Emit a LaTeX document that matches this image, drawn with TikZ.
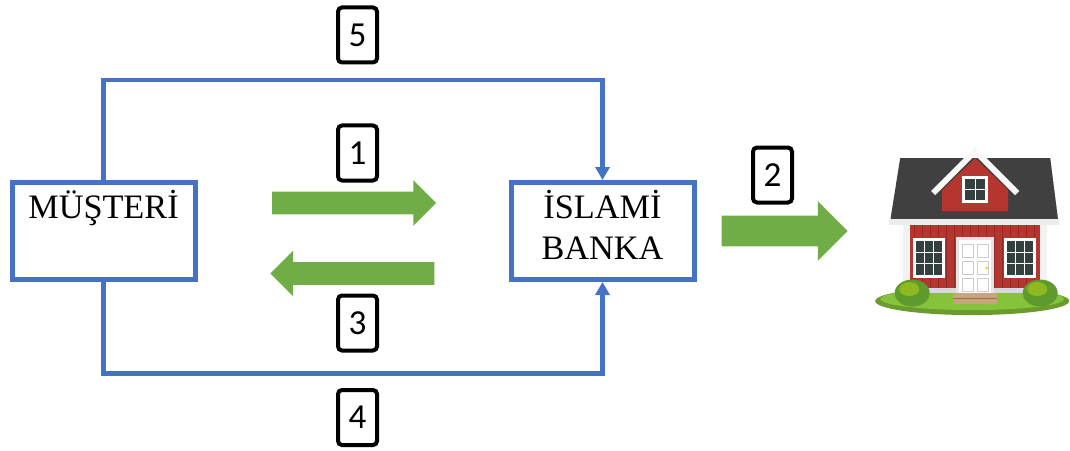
\documentclass[tikz,border=0pt]{standalone}
\usepackage{fontspec}
\setmainfont{Liberation Serif}
\newfontfamily\numfont{Carlito}
\usepackage{tikz}
\usetikzlibrary{arrows.meta,shapes.arrows}
\definecolor{flowblue}{HTML}{4472C4}
\definecolor{flowgreen}{HTML}{70AD47}
\definecolor{wallred}{HTML}{B5352F}
\definecolor{roofgray}{HTML}{404040}
\definecolor{glass}{HTML}{34403F}
\definecolor{lawn}{HTML}{86C23A}
\definecolor{bush}{HTML}{5E9A2C}
\definecolor{stepwood}{HTML}{C9A57C}

\begin{document}
\begin{tikzpicture}[
  party/.style={draw=flowblue, line width=0.1cm, fill=white, minimum width=3.66cm, minimum height=1.94cm, align=center, font=\fontsize{19.5}{23}\selectfont},
  stepno/.style={draw=black, line width=0.08cm, rounded corners=0.8mm, minimum width=0.78cm, minimum height=1.1cm, inner sep=0pt, font=\numfont\fontsize{20}{24}\selectfont},
  flow/.style={single arrow, fill=flowgreen, inner xsep=0pt, inner ysep=0.22cm, single arrow head extend=0.23cm, minimum height=3.28cm},
  track/.style={-{Triangle[length=2.6mm, width=2.8mm]}, draw=flowblue, line width=0.09cm}
]
\useasboundingbox (0,0) rectangle (21.4,9);

% the two parties
\node[party] (musteri) at (2.07,4.38) {MÜŞTERİ\\\strut};
\node[party] (banka) at (12.05,4.38) {İSLAMİ\\BANKA\strut};

% outer lines
\coordinate (upper) at (0,7.4);
\coordinate (lower) at (0,1.53);
\draw[track] (musteri.north) |- (banka.north |- upper) -- (banka.north);
\draw[track] (musteri.south) |- (banka.south |- lower) -- (banka.south);

% green arrows
\node[flow] (give) at (6.97,4.94) {};
\node[flow, shape border rotate=180] (back) at (7.16,3.53) {};
\node[flow, minimum height=2.52cm, inner ysep=0.3cm, single arrow head extend=0.29cm] (buy) at (15.54,4.38) {};

% step numbers
\node[stepno] (n5) at (7.15,8.3) {5};
\node[stepno] (n1) at (7.15,5.94) {1};
\node[stepno] (n3) at (7.15,2.54) {3};
\node[stepno] (n4) at (7.15,0.65) {4};
\node[stepno] (n2) at (15.45,5.5) {2};

% house
\begin{scope}[x=0.02cm, y=-0.02cm, shift={(0,9cm)}]
  \fill[lawn!80!black] (972,301) ellipse [x radius=97, y radius=14];
  \fill[lawn] (972,299) ellipse [x radius=92, y radius=11];
  % walls
  \fill[wallred] (903,222) rectangle (1047,293);
  \foreach \x in {914,922,...,1038}
    \draw[wallred!80!black, line width=0.2pt] (\x,224) -- (\x,290);
  \fill[white!90!gray] (903,222) rectangle (910,293);
  \fill[white!90!gray] (1040,222) rectangle (1047,293);
  \fill[gray!30] (903,288) rectangle (1047,293);
  % roof
  \fill[roofgray] (900,158) -- (1050,158) -- (1058,221) -- (890,221) -- cycle;
  \begin{scope}
    \clip (900,158) -- (1050,158) -- (1058,221) -- (890,221) -- cycle;
    \foreach \y in {166,174,...,214}
      \draw[black!75, line width=0.3pt] (880,\y) -- (1070,\y);
  \end{scope}
  \fill[gray!15] (889,219) rectangle (1059,225);
  % dormer
  \fill[wallred] (942,190) -- (975,158) -- (1008,190) -- (1008,211) -- (942,211) -- cycle;
  \draw[white!95!gray, line width=0.12cm, line join=miter] (933,193) -- (975,151) -- (1017,193);
  \fill[white] (962,176) rectangle (988,203);
  \fill[glass] (965,179) rectangle (985,200);
  \draw[white, line width=0.6pt] (975,179) -- (975,200) (965,189.5) -- (985,189.5);
  % windows
  \foreach \x in {913,1004} {
    \fill[white] (\x,238) rectangle ++(32,40);
    \fill[glass] (\x+3,241) rectangle ++(26,34);
    \draw[white, line width=0.6pt] (\x+11.7,241) -- ++(0,34) (\x+20.3,241) -- ++(0,34)
      (\x+3,252.3) -- ++(26,0) (\x+3,263.6) -- ++(26,0);
  }
  % door
  \fill[gray!20] (956,237) rectangle (994,293);
  \fill[white] (959,240) rectangle (991,293);
  \foreach \y in {244,261,278}
    \draw[gray!40, line width=0.4pt] (962,\y) rectangle ++(11,13) (977,\y) rectangle ++(11,13);
  \fill[yellow!70!brown] (986.5,268) circle [radius=1.5];
  % steps
  \fill[stepwood] (953,293) rectangle (997,304);
  \draw[stepwood!70!black, line width=0.3pt] (953,298.5) -- (997,298.5);
  % bushes
  \foreach \x in {912,1040} {
    \fill[bush] (\x,293) ellipse [x radius=17.5, y radius=13.5];
    \fill[bush!70!yellow] (\x-3,289) ellipse [x radius=10, y radius=7];
  }
\end{scope}
\end{tikzpicture}
\end{document}
